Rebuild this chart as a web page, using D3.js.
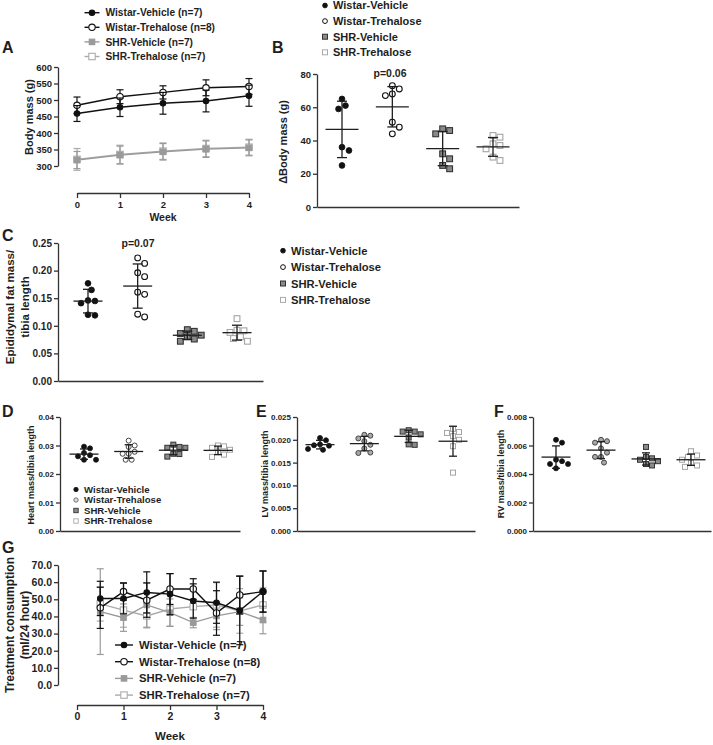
<!DOCTYPE html>
<html><head><meta charset="utf-8">
<script src="https://cdn.jsdelivr.net/npm/d3@7/dist/d3.min.js"></script>
<style>
body{margin:0;background:#fff}
svg{display:block}
text{font-family:"Liberation Sans",Arial,Helvetica,sans-serif;font-weight:bold;fill:#1e1e1e}
</style>
</head><body>
<svg id="c" width="713" height="745"></svg>
<script>
// ---------------- DATA ----------------
const groups = ["Wistar-Vehicle", "Wistar-Trehalose", "SHR-Vehicle", "SHR-Trehalose"];
const groupsN = ["Wistar-Vehicle (n=7)", "Wistar-Trehalose (n=8)", "SHR-Vehicle (n=7)", "SHR-Trehalose (n=7)"];

// Panel A: body mass (g) by week
const weeksA = [0, 1, 2, 3, 4];
const bodyMassWV = [459, 478, 490, 497, 513];
const bodyMassWT = [484, 510, 523, 537, 541];
const bodyMassSV = [318, 333, 343, 351, 355];
const bodyMassST = [320, 335, 345, 353, 357];
const bodyMassSdWV = [24, 28, 33, 33, 32];
const bodyMassSdWT = [25, 21, 20, 24, 24];
const bodyMassSdSV = [26, 27, 25, 25, 24];
const bodyMassSdST = [33, 28, 25, 25, 24];
const ticksA = [300, 350, 400, 450, 500, 550, 600];

// Panel B: delta body mass (g)
const deltaWV = [65, 61, 59, 36, 34, 25];
const deltaWT = [73, 71, 68, 67, 51, 48, 44];
const deltaSV = [47, 46, 44, 32, 29, 25, 23];
const deltaST = [43, 42, 38, 37, 35, 30, 28];
const ticksB = [0, 20, 40, 60, 80];

// Panel C: epididymal fat mass / tibia length
const fatWV = [0.177, 0.165, 0.146, 0.141, 0.145, 0.119, 0.120];
const fatWT = [0.223, 0.213, 0.196, 0.189, 0.161, 0.157, 0.116, 0.121];
const fatSV = [0.093, 0.090, 0.086, 0.083, 0.080, 0.076, 0.072];
const fatST = [0.113, 0.092, 0.091, 0.088, 0.080, 0.077, 0.072];
const ticksC = [0, 0.05, 0.10, 0.15, 0.20, 0.25];

// Panel D: heart mass / tibia length
const heartWV = [0.0296, 0.0290, 0.0274, 0.0266, 0.0262, 0.0250, 0.0250];
const heartWT = [0.0317, 0.0300, 0.0295, 0.0278, 0.0271, 0.0271, 0.0250, 0.0250];
const heartSV = [0.0303, 0.0295, 0.0292, 0.0292, 0.0271, 0.0270, 0.0261];
const heartST = [0.0300, 0.0297, 0.0292, 0.0285, 0.0278, 0.0268, 0.0260];
const ticksD = [0, 0.01, 0.02, 0.03, 0.04];

// Panel E: LV mass / tibia length
const lvWV = [0.0204, 0.0199, 0.0190, 0.0188, 0.0187, 0.0180, 0.0178];
const lvWT = [0.0211, 0.0209, 0.0203, 0.0197, 0.0189, 0.0181, 0.0172, 0.0171];
const lvSV = [0.0221, 0.0218, 0.0218, 0.0212, 0.0205, 0.0190, 0.0189];
const lvST = [0.0224, 0.0217, 0.0215, 0.0208, 0.0200, 0.0186, 0.0128];
const ticksE = [0, 0.005, 0.010, 0.015, 0.020, 0.025];

// Panel F: RV mass / tibia length
const rvWV = [0.0064, 0.0062, 0.0050, 0.0049, 0.0047, 0.0047, 0.0044];
const rvWT = [0.0064, 0.0063, 0.0062, 0.0058, 0.0055, 0.0052, 0.0052, 0.0048];
const rvSV = [0.0059, 0.0052, 0.0051, 0.0050, 0.0049, 0.0047, 0.0046];
const rvST = [0.0056, 0.0053, 0.0052, 0.0050, 0.0048, 0.0046, 0.0045];
const ticksF = [0, 0.002, 0.004, 0.006, 0.008];

// Panel G: treatment consumption (ml/24 hour)
const weeksG = [0.5, 1, 1.5, 2, 2.5, 3, 3.5, 4];
const drinkWV = [50.5, 50.5, 54, 53, 49, 48, 43.5, 54.5];
const drinkWT = [45, 54.5, 49.5, 56, 56, 42, 52.5, 54.5];
const drinkSV = [42.8, 39.3, 46.7, 42.2, 36.4, 40.3, 42.8, 37.9];
const drinkST = [47.3, 43.7, 40.3, 44.3, 45.7, 46.7, 43.2, 46.7];
const drinkSdWV = [10, 9, 12, 12, 10, 12, 20, 12];
const drinkSdWT = [12, 5, 10, 9, 6, 13, 11, 12];
const drinkSdSV = [25, 8, 13, 8, 3, 8, 8, 8];
const drinkSdST = [10, 10, 7, 10, 10, 13, 13, 10];
const ticksGy = [0, 10, 20, 30, 40, 50, 60, 70];
const ticksGx = [0, 1, 2, 3, 4];

// ---------------- HELPERS ----------------
const svg = d3.select("#c");
const AX = "#333";

function styleAxis(g, fs) {
  g.attr("font-family", null).attr("font-size", null);
  g.selectAll("path,line").attr("stroke", AX).attr("stroke-width", 1.3);
  g.selectAll("text").attr("font-size", fs).attr("fill", "#1e1e1e");
}
function yAxis(x, scale, ticks, fmt, fs) {
  const g = svg.append("g").attr("transform", `translate(${x},0)`)
    .call(d3.axisLeft(scale).tickValues(ticks).tickFormat(fmt).tickSize(4).tickSizeOuter(0).tickPadding(2));
  styleAxis(g, fs);
}
function xLine(y, x0, x1) {
  const s = d3.scaleLinear().range([x0, x1]);
  const g = svg.append("g").attr("transform", `translate(0,${y})`)
    .call(d3.axisBottom(s).tickValues([]).tickSizeOuter(0));
  styleAxis(g, 8);
}
function yLabel(x, y, lines, fs, lh) {
  const t = svg.append("text").attr("transform", `translate(${x},${y}) rotate(-90)`)
    .attr("text-anchor", "middle").attr("font-size", fs);
  lines.forEach((l, i) => t.append("tspan").attr("x", 0).attr("dy", i ? lh : 0).text(l));
}
function panelLabel(x, y, s) {
  svg.append("text").attr("x", x).attr("y", y).attr("font-size", 16).text(s);
}
function symbol(g, st, cx, cy) {
  if (st.shape === "circle") {
    g.append("circle").attr("cx", cx).attr("cy", cy).attr("r", st.r)
      .attr("fill", st.fill).attr("stroke", st.stroke).attr("stroke-width", st.sw || 1.2);
  } else {
    g.append("rect").attr("x", cx - st.r).attr("y", cy - st.r).attr("width", 2 * st.r).attr("height", 2 * st.r)
      .attr("fill", st.fill).attr("stroke", st.stroke).attr("stroke-width", st.sw || 1.2);
  }
}
function legend(x, y0, dy, labels, styles, fs, lineLen) {
  const g = svg.append("g");
  labels.forEach((lab, i) => {
    const y = y0 + i * dy;
    if (lineLen) {
      g.append("line").attr("x1", x - lineLen / 2).attr("x2", x + lineLen / 2).attr("y1", y).attr("y2", y)
        .attr("stroke", styles[i].line).attr("stroke-width", 1.4);
    }
    symbol(g, styles[i], x, y);
    g.append("text").attr("x", x + (lineLen ? lineLen / 2 + 6 : 8)).attr("y", y).attr("dy", "0.36em")
      .attr("font-size", fs).text(lab);
  });
}
function swarm(vals, y, cx, r) {
  const placed = [];
  const sorted = vals.slice().sort((a, b) => b - a);
  const step = r * 1.2;
  sorted.forEach(v => {
    const py = y(v);
    const cands = [0];
    for (let j = 1; j < 10; j++) cands.push(j * step, -j * step);
    let off = 0;
    for (const c of cands) {
      if (placed.every(q => Math.hypot(q.x - (cx + c), q.y - py) >= 2 * r + 1)) { off = c; break; }
    }
    placed.push({ x: cx + off, y: py });
  });
  return placed;
}
function scatterPanel(o) {
  const y = d3.scaleLinear().domain([0, o.ymax]).range([o.yBot, o.yTop]);
  const x = d3.scalePoint().domain(groups).range([o.c0, o.c1]);
  yAxis(o.ax0, y, o.ticks, o.fmt, o.tickFs);
  xLine(o.yBot, o.ax0, o.ax1);
  const g = svg.append("g");
  o.data.forEach((vals, i) => {
    const cx = x(groups[i]);
    swarm(vals, y, cx, o.styles[i].r).forEach(p => symbol(g, o.styles[i], p.x, p.y));
  });
  o.data.forEach((vals, i) => {
    const cx = x(groups[i]);
    const m = d3.mean(vals), sd = d3.deviation(vals);
    const lg = g.append("g").attr("stroke", "#1e1e1e").attr("stroke-width", 1.3).attr("fill", "none");
    lg.append("line").attr("x1", cx - o.half).attr("x2", cx + o.half).attr("y1", y(m)).attr("y2", y(m));
    lg.append("line").attr("x1", cx).attr("x2", cx).attr("y1", y(m + sd)).attr("y2", y(m - sd));
    [m + sd, m - sd].forEach(v => lg.append("line").attr("x1", cx - o.cap).attr("x2", cx + o.cap).attr("y1", y(v)).attr("y2", y(v)));
  });
  return { x, y };
}
function linePanel(o) {
  const x = d3.scaleLinear().domain([0, 4]).range([o.x0, o.x1]);
  const y = d3.scaleLinear().domain(o.ydom).range([o.yBot, o.yTop]);
  yAxis(o.yAxX, y, o.yticks, o.yfmt, o.yFs);
  const gx = svg.append("g").attr("transform", `translate(0,${o.xAxY})`)
    .call(d3.axisBottom(x).tickValues(o.xticks).tickFormat(d3.format("d")).tickSize(5).tickSizeOuter(0).tickPadding(3));
  styleAxis(gx, o.xFs);
  const g = svg.append("g");
  const order = [3, 2, 1, 0];
  order.forEach(i => {
    const st = o.styles[i], m = o.means[i], s = o.sds[i];
    const eg = g.append("g").attr("stroke", st.line).attr("stroke-width", 1.2);
    m.forEach((v, k) => {
      const cx = x(o.weeks[k]);
      eg.append("line").attr("x1", cx).attr("x2", cx).attr("y1", y(v + s[k])).attr("y2", y(v - s[k]));
      [v + s[k], v - s[k]].forEach(e => eg.append("line").attr("x1", cx - 3.5).attr("x2", cx + 3.5).attr("y1", y(e)).attr("y2", y(e)));
    });
    g.append("path").datum(m).attr("fill", "none").attr("stroke", st.line).attr("stroke-width", 1.4)
      .attr("d", d3.line().x((d, k) => x(o.weeks[k])).y(d => y(d)));
    m.forEach((v, k) => symbol(g, st, x(o.weeks[k]), y(v)));
  });
}

// ---------------- STYLES ----------------
const lineStyles = [
  { shape: "circle", r: 2.7, fill: "#111", stroke: "#111", line: "#111" },
  { shape: "circle", r: 3.2, fill: "#fff", stroke: "#111", line: "#111", sw: 1.1 },
  { shape: "rect", r: 2.7, fill: "#9a9a9a", stroke: "#9a9a9a", line: "#9a9a9a" },
  { shape: "rect", r: 3.2, fill: "#fff", stroke: "#ababab", line: "#ababab", sw: 1.1 }
];
const dotStylesBC = [
  { shape: "circle", r: 2.9, fill: "#111", stroke: "#111", sw: 0.8 },
  { shape: "circle", r: 2.9, fill: "#fff", stroke: "#111", sw: 1.1 },
  { shape: "rect", r: 2.9, fill: "#8a8a8a", stroke: "#333", sw: 1.1 },
  { shape: "rect", r: 2.9, fill: "#fff", stroke: "#a5a5a5", sw: 1.1 }
];
const dotStylesD = [
  { shape: "circle", r: 2.5, fill: "#111", stroke: "#111", sw: 0.8 },
  { shape: "circle", r: 2.5, fill: "#fff", stroke: "#444", sw: 1 },
  { shape: "rect", r: 2.5, fill: "#8a8a8a", stroke: "#333", sw: 1 },
  { shape: "rect", r: 2.5, fill: "#fff", stroke: "#a5a5a5", sw: 1 }
];
const dotStylesEF = [
  { shape: "circle", r: 2.5, fill: "#111", stroke: "#111", sw: 0.8 },
  { shape: "circle", r: 2.5, fill: "#a8a8a8", stroke: "#444", sw: 1 },
  { shape: "rect", r: 2.5, fill: "#8a8a8a", stroke: "#333", sw: 1 },
  { shape: "rect", r: 2.5, fill: "#fff", stroke: "#a5a5a5", sw: 1 }
];
const legStylesB = [
  { shape: "circle", r: 2.4, fill: "#111", stroke: "#111", sw: 0.8 },
  { shape: "circle", r: 2.4, fill: "#fff", stroke: "#111", sw: 1 },
  { shape: "rect", r: 2.5, fill: "#8a8a8a", stroke: "#333", sw: 1 },
  { shape: "rect", r: 2.5, fill: "#fff", stroke: "#aaa", sw: 1 }
];
const legStylesD = [
  { shape: "circle", r: 2.2, fill: "#111", stroke: "#111", sw: 0.8 },
  { shape: "circle", r: 2.2, fill: "#ddd", stroke: "#666", sw: 0.9 },
  { shape: "rect", r: 2.2, fill: "#8a8a8a", stroke: "#333", sw: 0.9 },
  { shape: "rect", r: 2.2, fill: "#fff", stroke: "#aaa", sw: 0.9 }
];

// ---------------- PANEL A ----------------
panelLabel(2, 53, "A");
legend(92, 12.7, 14.6, groupsN, lineStyles, 10.2, 15);
linePanel({
  x0: 77, x1: 249, yTop: 67, yBot: 166, ydom: [300, 600], yAxX: 58, xAxY: 193,
  yticks: ticksA, yfmt: d3.format("d"), yFs: 9.5, xticks: weeksA, xFs: 9.5,
  weeks: weeksA, means: [bodyMassWV, bodyMassWT, bodyMassSV, bodyMassST],
  sds: [bodyMassSdWV, bodyMassSdWT, bodyMassSdSV, bodyMassSdST], styles: lineStyles
});
svg.append("text").attr("x", 163).attr("y", 221).attr("text-anchor", "middle").attr("font-size", 10.5).text("Week");
yLabel(33, 117, ["Body mass (g)"], 11, 0);

// ---------------- PANEL B ----------------
panelLabel(272, 53, "B");
legend(325, 5.5, 15.6, groups, legStylesB, 11, 0);
scatterPanel({
  data: [deltaWV, deltaWT, deltaSV, deltaST], ymax: 80, yTop: 74, yBot: 207,
  ax0: 317, ax1: 519, c0: 342, c1: 493, ticks: ticksB, fmt: d3.format("d"), tickFs: 9.5,
  styles: dotStylesBC, half: 16.5, cap: 5
});
svg.append("text").attr("x", 390).attr("y", 77).attr("text-anchor", "middle").attr("font-size", 10.5).text("p=0.06");
yLabel(287, 142, ["\u0394Body mass (g)"], 11, 0);

// ---------------- PANEL C ----------------
panelLabel(2, 241, "C");
scatterPanel({
  data: [fatWV, fatWT, fatSV, fatST], ymax: 0.25, yTop: 243, yBot: 381,
  ax0: 58, ax1: 263, c0: 88, c1: 237, ticks: ticksC, fmt: d3.format(".2f"), tickFs: 10,
  styles: dotStylesBC, half: 14.5, cap: 5
});
svg.append("text").attr("x", 138).attr("y", 247).attr("text-anchor", "middle").attr("font-size", 10.5).text("p=0.07");
yLabel(14, 307, ["Epididymal fat mass/", "tibia length"], 11.5, 15);
legend(283, 250.7, 16.4, groups, legStylesB, 11.2, 0);

// ---------------- PANEL D ----------------
panelLabel(2, 417, "D");
scatterPanel({
  data: [heartWV, heartWT, heartSV, heartST], ymax: 0.04, yTop: 417, yBot: 531,
  ax0: 60, ax1: 240, c0: 84, c1: 218, ticks: ticksD, fmt: d3.format(".2f"), tickFs: 8,
  styles: dotStylesD, half: 14.5, cap: 4
});
yLabel(34, 475, ["Heart mass/tibia length"], 9, 0);
legend(76, 489.5, 10.5, groups, legStylesD, 9.6, 0);

// ---------------- PANEL E ----------------
panelLabel(256, 417, "E");
scatterPanel({
  data: [lvWV, lvWT, lvSV, lvST], ymax: 0.025, yTop: 417, yBot: 531,
  ax0: 297, ax1: 475, c0: 320, c1: 453, ticks: ticksE, fmt: d3.format(".3f"), tickFs: 8,
  styles: dotStylesEF, half: 14.5, cap: 4
});
yLabel(268, 474, ["LV mass/tibia length"], 9, 0);

// ---------------- PANEL F ----------------
panelLabel(494, 417, "F");
scatterPanel({
  data: [rvWV, rvWT, rvSV, rvST], ymax: 0.008, yTop: 417, yBot: 531,
  ax0: 533, ax1: 711, c0: 556, c1: 691, ticks: ticksF, fmt: d3.format(".3f"), tickFs: 8,
  styles: dotStylesEF, half: 14.5, cap: 4
});
yLabel(504, 474, ["RV mass/tibia length"], 9, 0);

// ---------------- PANEL G ----------------
panelLabel(2, 553, "G");
linePanel({
  x0: 77, x1: 263, yTop: 565, yBot: 685, ydom: [0, 70], yAxX: 58, xAxY: 705,
  yticks: ticksGy, yfmt: d3.format(".1f"), yFs: 10.5, xticks: ticksGx, xFs: 10.5,
  weeks: weeksG, means: [drinkWV, drinkWT, drinkSV, drinkST],
  sds: [drinkSdWV, drinkSdWT, drinkSdSV, drinkSdST], styles: lineStyles
});
legend(124, 645, 16.7, groupsN, lineStyles, 11.3, 18);
svg.append("text").attr("x", 170).attr("y", 740).attr("text-anchor", "middle").attr("font-size", 11.5).text("Week");
yLabel(14, 625, ["Treatment consumption", "(ml/24 hour)"], 12, 15);
</script>
</body></html>
